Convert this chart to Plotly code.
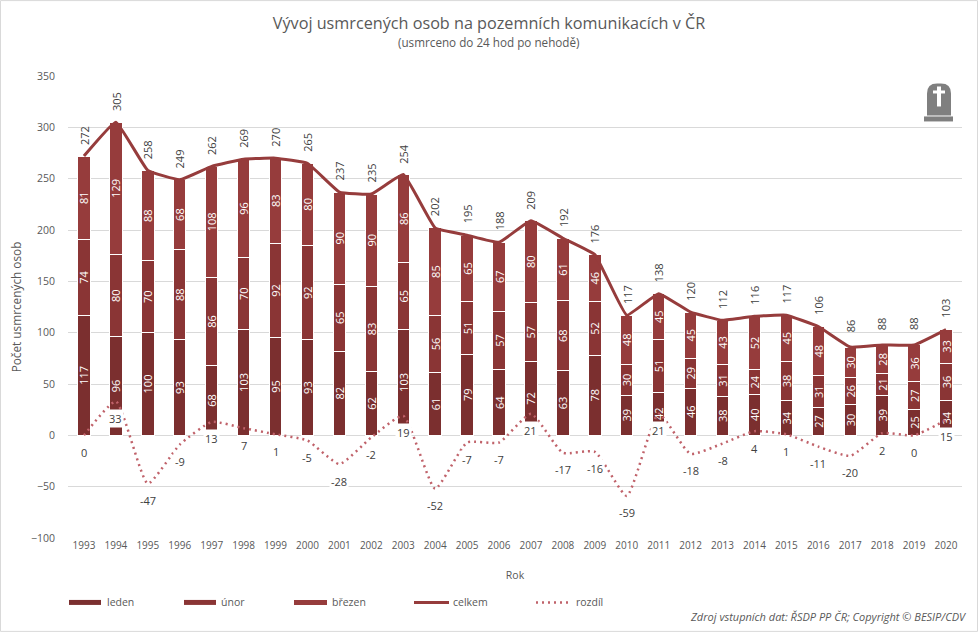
import plotly.graph_objects as go

WIDTH = 978
HEIGHT = 632
LEFT, RIGHT, TOP, BOTTOM = 68, 962, 75.5, 538
FONT = 'Open Sans'
TEXT = '#595959'

years = list(range(1993, 2021))
leden = [117, 96, 100, 93, 68, 103, 95, 93, 82, 62, 103, 61, 79, 64, 72, 63, 78, 39,
         42, 46, 38, 40, 34, 27, 30, 39, 25, 34]
unor = [74, 80, 70, 88, 86, 70, 92, 92, 65, 83, 65, 56, 51, 57, 57, 68, 52, 30,
        51, 29, 31, 24, 38, 31, 26, 21, 27, 36]
brezen = [81, 129, 88, 68, 108, 96, 83, 80, 90, 90, 86, 85, 65, 67, 80, 61, 46, 48,
          45, 45, 43, 52, 45, 48, 30, 28, 36, 33]
celkem = [272, 305, 258, 249, 262, 269, 270, 265, 237, 235, 254, 202, 195, 188, 209, 192, 176, 117,
          138, 120, 112, 116, 117, 106, 86, 88, 88, 103]
rozdil = [0, 33, -47, -9, 13, 7, 1, -5, -28, -2, 19, -52, -7, -7, 21, -17, -16, -59,
          21, -18, -8, 4, 1, -11, -20, 2, 0, 15]

COL_LEDEN = '#7b2f2f'
COL_UNOR = '#8a3535'
COL_BREZEN = '#963c3c'
COL_ROZDIL = '#c0626a'


def px(x):
    return (x - LEFT) / (RIGHT - LEFT)


def py(y):
    return (BOTTOM - y) / (BOTTOM - TOP)


def box(x0, y0, x1, y1, color, **kwargs):
    return dict(type='rect', xref='paper', yref='paper', x0=px(x0), x1=px(x1),
                y0=py(y0), y1=py(y1), fillcolor=color, line_width=0, **kwargs)


def label(x, y, text, size=10.5, color=TEXT, anchor='left', **kwargs):
    return dict(xref='paper', yref='paper', x=px(x), y=py(y), text=text, showarrow=False,
                xanchor=anchor, yanchor='middle', font=dict(family=FONT, size=size, color=color),
                **kwargs)


def tombstone():
    p = (f'M {px(927)} {py(115)} L {px(927)} {py(93)} '
         f'Q {px(927)} {py(83)} {px(937)} {py(83)} L {px(941)} {py(83)} '
         f'Q {px(951)} {py(83)} {px(951)} {py(93)} L {px(951)} {py(115)} Z')
    return [
        dict(type='path', xref='paper', yref='paper', path=p, fillcolor='#7f7f7f', line_width=0),
        box(924, 116, 953, 121, '#7f7f7f'),
        box(937, 86, 941, 106, 'white'),
        box(933, 90, 945, 93, 'white'),
    ]


fig = go.Figure()
for name, values, color in [('leden', leden, COL_LEDEN), ('únor', unor, COL_UNOR),
                            ('březen', brezen, COL_BREZEN)]:
    fig.add_trace(go.Bar(x=years, y=values, name=name, width=0.39, text=values,
                         textposition='inside', insidetextanchor='middle', textangle=-90,
                         textfont=dict(family=FONT, size=11, color='white'),
                         marker=dict(color=color, line=dict(color='white', width=1))))

fig.add_trace(go.Scatter(x=years, y=celkem, name='celkem', mode='lines',
                         line=dict(color=COL_BREZEN, width=3, shape='spline', smoothing=0.3)))
fig.add_trace(go.Scatter(x=years, y=rozdil, name='rozdíl', mode='lines',
                         line=dict(color=COL_ROZDIL, width=2.5, dash='2px,4px',
                                   shape='spline', smoothing=0.5)))

annotations = []
for year, total in zip(years, celkem):
    annotations.append(dict(x=year, y=total, text=str(total), showarrow=False, textangle=-90,
                            yshift=21, font=dict(family=FONT, size=11, color='#404040')))
for year, diff in zip(years, rozdil):
    annotations.append(dict(x=year, y=diff, text=str(diff), showarrow=False, yshift=-17,
                            bgcolor='white', font=dict(family=FONT, size=11, color='#404040')))

annotations.append(label(489, 41, '(usmrceno do 24 hod po nehodě)', size=11.7, anchor='center'))
annotations.append(label(969, 617, '<i>Zdroj vstupních dat: ŘSDP PP ČR; Copyright © BESIP/CDV</i>',
                         size=11, anchor='right'))

shapes = tombstone()
legend_items = [('leden', 69, 101, 105, COL_LEDEN), ('únor', 184, 216, 219, COL_UNOR),
                ('březen', 294, 327, 330, COL_BREZEN)]
for text, x0, x1, tx, color in legend_items:
    shapes.append(box(x0, 600, x1, 605, color))
    annotations.append(label(tx, 602.5, text))
shapes.append(dict(type='line', xref='paper', yref='paper', x0=px(414), x1=px(449),
                   y0=py(602.5), y1=py(602.5), line=dict(color=COL_BREZEN, width=3)))
annotations.append(label(451, 602.5, 'celkem'))
shapes.append(dict(type='line', xref='paper', yref='paper', x0=px(536), x1=px(570),
                   y0=py(602.5), y1=py(602.5), line=dict(color=COL_ROZDIL, width=2.5, dash='2px,4px')))
annotations.append(label(574, 602.5, 'rozdíl'))
shapes.append(dict(type='rect', xref='paper', yref='paper', x0=px(0.5), x1=px(977.5),
                   y0=py(631.5), y1=py(0), line=dict(color='#d9d9d9', width=1),
                   fillcolor='rgba(0,0,0,0)'))

fig.update_layout(
    template='none',
    width=WIDTH, height=HEIGHT, barmode='stack', showlegend=False,
    paper_bgcolor='white', plot_bgcolor='white',
    margin=dict(l=LEFT, r=WIDTH - RIGHT, t=TOP, b=HEIGHT - BOTTOM, pad=0),
    font=dict(family=FONT, size=10.5, color=TEXT),
    title=dict(text='Vývoj usmrcených osob na pozemních komunikacích v ČR', x=489 / WIDTH,
               xanchor='center', y=1 - 23 / HEIGHT, yanchor='middle',
               font=dict(family=FONT, size=16.2, color=TEXT)),
    uniformtext=dict(minsize=10, mode='show'),
    annotations=annotations, shapes=shapes,
)
fig.update_xaxes(range=[1992.5, 2020.5], dtick=1, tick0=1993, showgrid=False, zeroline=False,
                 showline=False, ticks='',
                 title=dict(text='Rok', standoff=20, font=dict(size=10.5, color=TEXT)),
                 tickfont=dict(size=10, color=TEXT))
# ticks are white, they only push the labels away from the plot area
fig.update_yaxes(range=[-100, 350], dtick=50, gridcolor='#d9d9d9', gridwidth=1, zeroline=True,
                 zerolinecolor='#d9d9d9', zerolinewidth=1, showline=False,
                 ticks='outside', ticklen=10, tickcolor='white',
                 title=dict(text='Počet usmrcených osob', standoff=6, font=dict(size=11.8, color=TEXT)),
                 tickfont=dict(size=10.5, color=TEXT))

fig.write_html("out.html", post_script="document.body.style.margin = '0';",
               config=dict(displayModeBar=False))
